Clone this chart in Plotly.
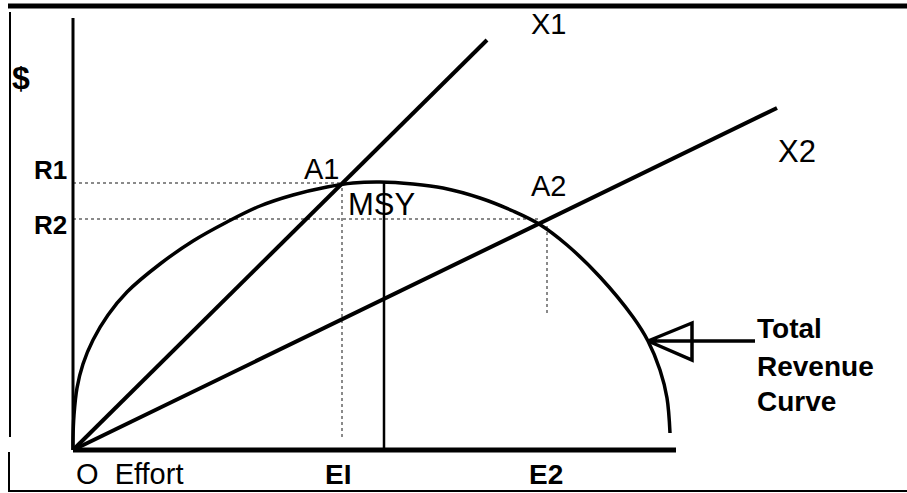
import plotly.graph_objects as go

# Total revenue curve (effort, revenue), diagram units
effort = [0, 0, 1, 4, 10, 20, 35, 54, 87, 120, 154, 187, 220, 254, 280, 307, 340, 370, 407, 440, 466, 494, 527, 560, 575, 587, 594, 597]
revenue = [0, 12, 35, 62, 86, 110, 135, 158, 186, 209, 228, 244, 255, 263, 267, 268, 266, 262, 252, 239, 226, 205, 173, 133, 109, 80, 52, 17]

# Cost lines from the origin: end points
x1_effort = [0, 414]
x1_cost = [0, 410]
x2_effort = [0, 704]
x2_cost = [0, 342]

# Key levels
R1 = 267
R2 = 231
E1 = 269
E2 = 474
E_MSY = 311
A1 = (267, 266)
A2 = (466, 227)

fig = go.Figure()

dot = dict(color="#8a8a8a", width=2, dash="dot")
# dotted guides
fig.add_trace(go.Scatter(x=[0, A1[0]], y=[R1, R1], mode="lines", line=dot, hoverinfo="skip"))
fig.add_trace(go.Scatter(x=[0, A2[0]], y=[R2, R2], mode="lines", line=dot, hoverinfo="skip"))
fig.add_trace(go.Scatter(x=[E1, E1], y=[13, R1], mode="lines", line=dot, hoverinfo="skip"))
fig.add_trace(go.Scatter(x=[E2, E2], y=[137, A2[1]], mode="lines", line=dot, hoverinfo="skip"))

# MSY vertical
fig.add_trace(go.Scatter(x=[E_MSY, E_MSY], y=[0, 268], mode="lines",
                         line=dict(color="black", width=2.5), hoverinfo="skip"))

# revenue curve
fig.add_trace(go.Scatter(x=effort, y=revenue, mode="lines", line_shape="spline",
                         line=dict(color="black", width=3.5, smoothing=1.0), hoverinfo="skip"))
# cost lines
fig.add_trace(go.Scatter(x=x1_effort, y=x1_cost, mode="lines",
                         line=dict(color="black", width=4), hoverinfo="skip"))
fig.add_trace(go.Scatter(x=x2_effort, y=x2_cost, mode="lines",
                         line=dict(color="black", width=4), hoverinfo="skip"))

# axes lines
fig.add_trace(go.Scatter(x=[0, 0], y=[0, 432], mode="lines",
                         line=dict(color="black", width=3), hoverinfo="skip"))
fig.add_trace(go.Scatter(x=[0, 603], y=[0, 0], mode="lines",
                         line=dict(color="black", width=5), hoverinfo="skip"))

# arrow pointing at the curve
fig.add_trace(go.Scatter(x=[575, 619, 619, 575, 682], y=[109, 127, 90, 109, 109], mode="lines",
                         line=dict(color="black", width=3.5), hoverinfo="skip"))

W, H = 907, 493
def px(x):
    return x / W
def py(y):
    return 1 - y / H

shapes = [
    dict(type="line", xref="paper", yref="paper", x0=px(8), x1=px(907), y0=py(6), y1=py(6),
         line=dict(color="black", width=5)),
    dict(type="line", xref="paper", yref="paper", x0=px(10), x1=px(10), y0=py(12), y1=py(437),
         line=dict(color="black", width=2)),
    dict(type="line", xref="paper", yref="paper", x0=px(9), x1=px(9), y0=py(452), y1=py(492),
         line=dict(color="black", width=2)),
    dict(type="line", xref="paper", yref="paper", x0=px(9), x1=px(907), y0=py(491), y1=py(491),
         line=dict(color="black", width=2)),
]

FONT = "Liberation Sans, Arial, sans-serif"
def ann(x, y, t, bold=False, size=28, xanchor="center"):
    return dict(x=x, y=y, xref="x", yref="y", text=(f"<b>{t}</b>" if bold else t),
                showarrow=False, xanchor=xanchor, yanchor="middle",
                font=dict(family=FONT, size=size, color="black"))

annotations = [
    ann(475, 426, "X1", size=29),
    ann(724, 299, "X2", size=31),
    ann(248, 281, "A1", size=29),
    ann(475, 264, "A2", size=29),
    ann(308, 246, "MSY", size=31),
    ann(-52, 372, "$", bold=True, size=32),
    ann(-23, 280, "R1", bold=True, size=26),
    ann(-23, 225, "R2", bold=True, size=26),
    ann(1, -24, "O  Effort", xanchor="left", size=29),
    ann(265, -24, "EI", bold=True, size=28),
    ann(473, -24, "E2", bold=True, size=28),
    ann(682, 122, "Total", bold=True, xanchor="left"),
    ann(682, 84, "Revenue", bold=True, xanchor="left"),
    ann(682, 49, "Curve", bold=True, xanchor="left"),
]

fig.update_layout(
    width=W, height=H,
    margin=dict(l=0, r=0, t=0, b=0),
    paper_bgcolor="white", plot_bgcolor="white",
    showlegend=False,
    xaxis=dict(range=[-73, 834], visible=False, fixedrange=True),
    yaxis=dict(range=[-43, 450], visible=False, fixedrange=True),
    shapes=shapes,
    annotations=annotations,
)

fig.write_html("out.html", config={"staticPlot": True},
               post_script="document.body.style.margin='0';document.body.style.overflow='hidden';")
